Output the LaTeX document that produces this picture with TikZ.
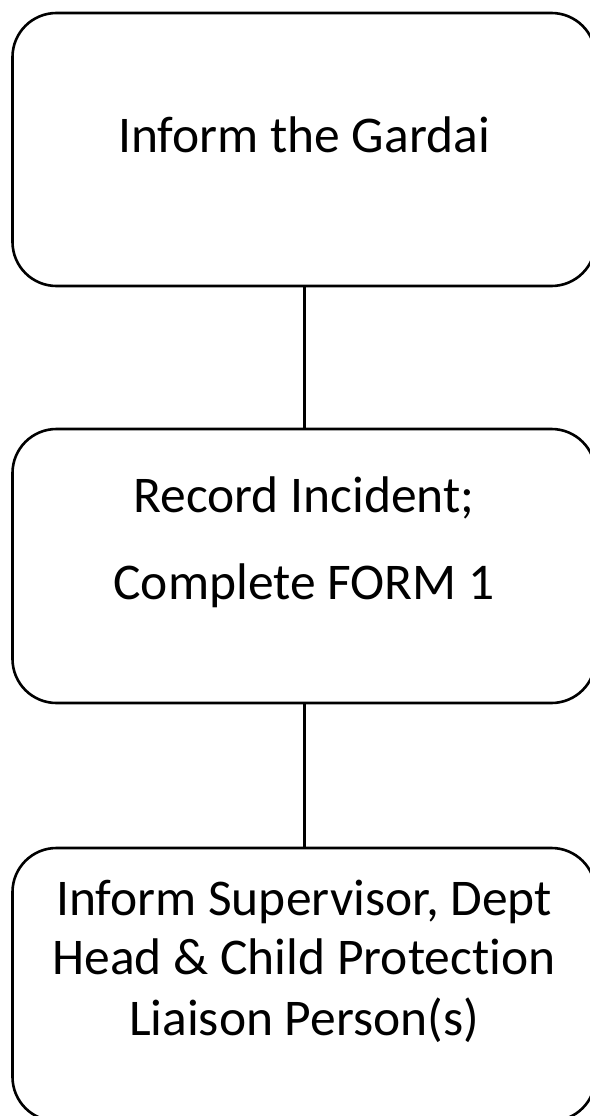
\documentclass[tikz,border=0pt]{standalone}
\usepackage{fontspec}
\setmainfont[Ligatures=NoCommon]{Carlito}
\begin{document}
\begin{tikzpicture}[x=1pt,y=-1pt,
  stepbox/.style={draw=black,line width=2.6pt,rounded corners=44pt,minimum width=583pt,inner sep=0pt,outer sep=0pt},
  label/.style={anchor=base,inner sep=0pt,font=\fontsize{51.5}{60}\selectfont},
  conn/.style={line width=3pt,black}]
\useasboundingbox (0,0) rectangle (589,1116);
\node[stepbox,minimum height=273pt] (b1) at (304,149.5) {};
\node[stepbox,minimum height=274pt] (b2) at (304,566) {};
\node[stepbox,minimum height=273pt] (b3) at (304,984.5) {};
\node[label] (t1) at (304,152) {Inform the Gardai};
\node[label] (t2a) at (304,512) {Record Incident;};
\node[label] (t2b) at (304,599) {Complete FORM 1};
\node[label] (t3a) at (304,915) {Inform Supervisor, Dept};
\node[label] (t3b) at (304,974) {Head \& Child Protection};
\node[label] (t3c) at (304,1035) {Liaison Person(s)};
\draw[conn] (b1.south) -- (b2.north);
\draw[conn] (b2.south) -- (b3.north);
\end{tikzpicture}
\end{document}
